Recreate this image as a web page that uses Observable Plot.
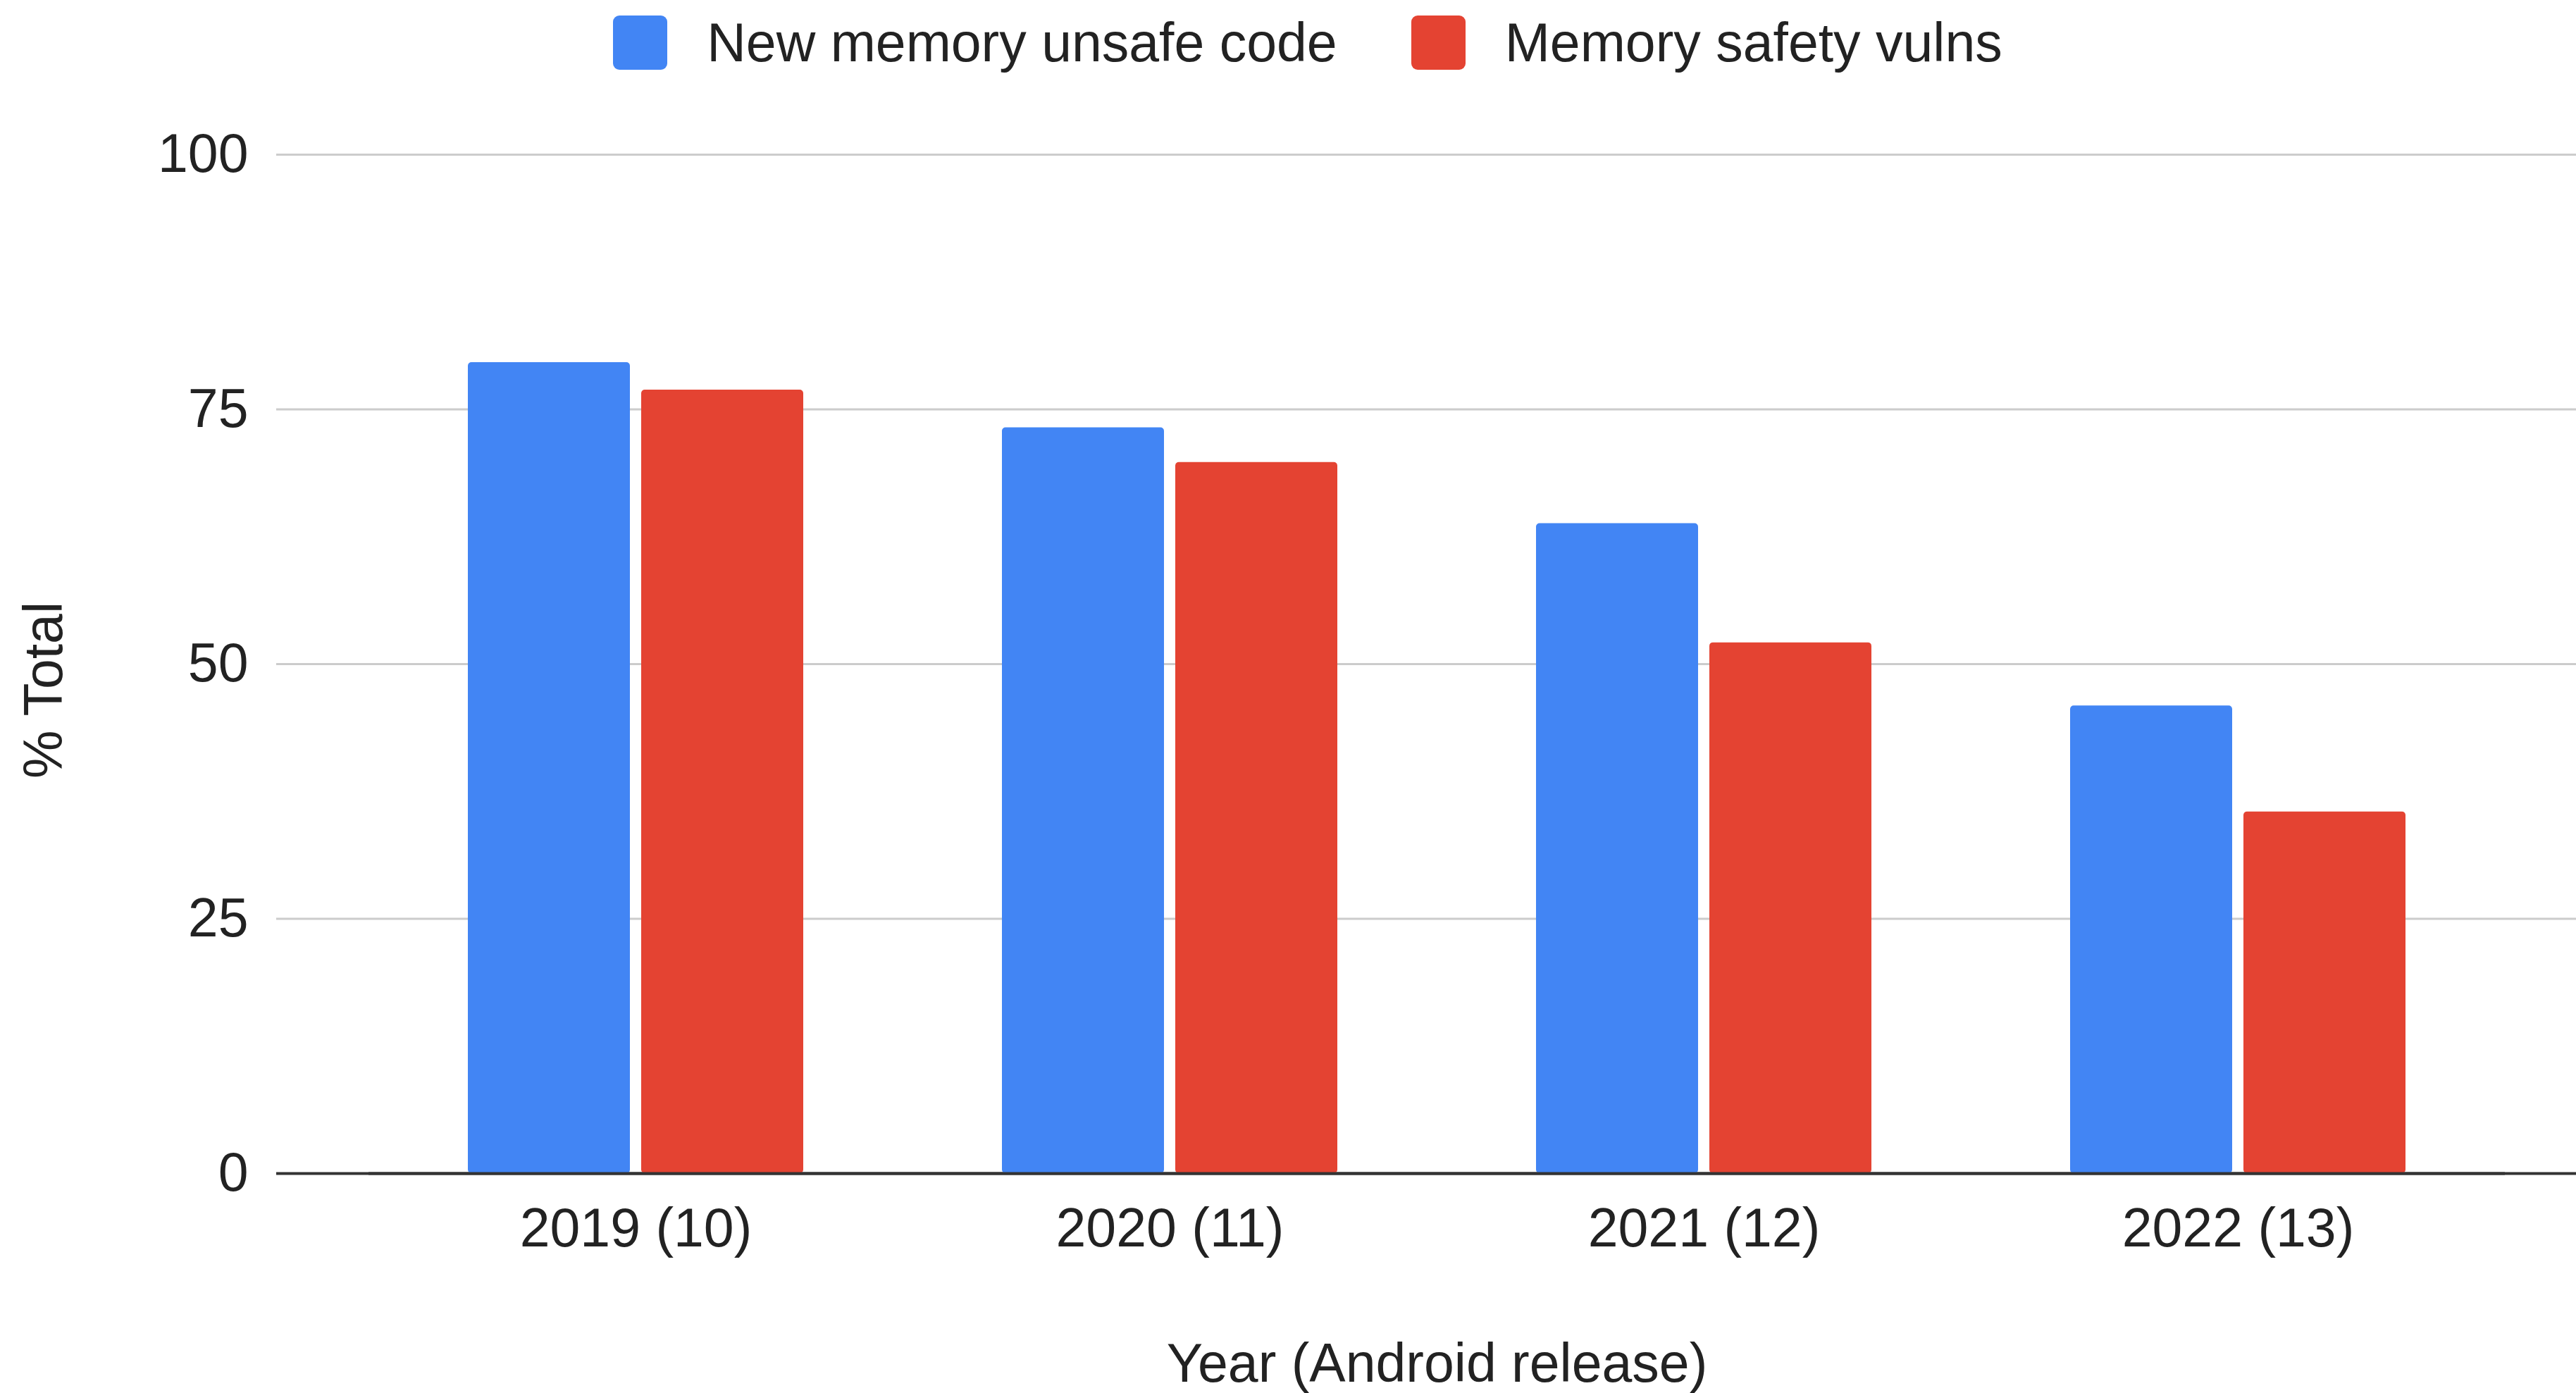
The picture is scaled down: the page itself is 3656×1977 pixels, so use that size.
<!DOCTYPE html>
<html>
<head>
<meta charset="utf-8">
<script src="https://cdn.jsdelivr.net/npm/d3@7"></script>
<script src="https://cdn.jsdelivr.net/npm/@observablehq/plot@0.6"></script>
<style>
  html, body { margin: 0; padding: 0; background: #fff; }
  #wrap { position: relative; width: 3656px; height: 1977px; overflow: hidden; font-family: 'Liberation Sans', Arial, sans-serif; color: #222; }
  #legend { position: absolute; top: 0; left: 0; width: 3656px; height: 120px; display: flex; justify-content: center; align-items: center; padding-left: 56px; box-sizing: border-box; font-size: 77px; }
  .item { display: flex; align-items: center; }
  .item + .item { margin-left: 105px; }
  .sw { width: 77px; height: 77px; border-radius: 9px; margin-right: 56px; }
  .layer { position: absolute; top: 120px; left: 0; }
</style>
</head>
<body>
<div id="wrap">
  <div id="legend"></div>
  <div id="bg" class="layer"></div>
  <div id="fg" class="layer"></div>
</div>
<script>
// ---- data ----
const years = ["2019 (10)", "2020 (11)", "2021 (12)", "2022 (13)"];
const series = ["New memory unsafe code", "Memory safety vulns"];
const unsafeCode = [79.6, 73.2, 63.8, 45.9];
const safetyVulns = [76.9, 69.8, 52.1, 35.5];
const yTicks = [0, 25, 50, 75, 100];
const gridTicks = [25, 50, 75, 100];
const yTitle = "% Total";
const xTitle = "Year (Android release)";

const palette = ["#4285f4", "#e44332"];
const seriesValues = [unsafeCode, safetyVulns];

const table = [];
years.forEach((yr, i) => {
  series.forEach((s, j) => table.push({year: yr, series: s, value: seriesValues[j][i]}));
});

const W = 3656, H = 1857;
const dims = {width: W, height: H, marginLeft: 392, marginRight: 0, marginTop: 99, marginBottom: 312};
const font = {fontFamily: "'Liberation Sans', Arial, sans-serif", fontSize: "77px", color: "#222", background: "transparent", overflow: "visible"};

// legend
const legend = document.getElementById("legend");
series.forEach((s, j) => {
  const it = document.createElement("div");
  it.className = "item";
  const sw = document.createElement("div");
  sw.className = "sw";
  sw.style.background = palette[j];
  const tx = document.createElement("span");
  tx.textContent = s;
  it.appendChild(sw); it.appendChild(tx);
  legend.appendChild(it);
});

// background layer: grid, y axis
const bg = Plot.plot({
  ...dims,
  style: font,
  y: {domain: [0, 100]},
  marks: [
    Plot.ruleY(gridTicks, {stroke: "#cccccc", strokeWidth: 3}),
    Plot.ruleY([0], {stroke: "#333", strokeWidth: 4}),
    Plot.axisY(yTicks, {tickSize: 0, tickPadding: 40, fontSize: 77, label: null}),
    Plot.text([yTitle], {frameAnchor: "left", textAnchor: "middle", rotate: -90, dx: -329, dy: 37, lineAnchor: "middle", fontSize: 77, fill: "#222"})
  ]
});
document.getElementById("bg").appendChild(bg);

// foreground layer: bars, x axis
const fg = Plot.plot({
  ...dims,
  style: font,
  fx: {domain: years, range: [523, 3555], paddingInner: 0, paddingOuter: 0},
  x: {domain: series, paddingInner: 0.065, paddingOuter: 0.567, axis: null},
  y: {domain: [0, 100], axis: null},
  color: {domain: series, range: palette},
  marks: [
    Plot.barY(table, {fx: "year", x: "series", y: "value", fill: "series", rx: 5}),
    Plot.ruleY([0], {stroke: "#333", strokeWidth: 4}),
    Plot.axisFx({anchor: "bottom", tickSize: 0, tickPadding: 49, fontSize: 77, label: xTitle, labelAnchor: "center", labelArrow: "none", labelOffset: 295})
  ]
});
document.getElementById("fg").appendChild(fg);
</script>
</body>
</html>
